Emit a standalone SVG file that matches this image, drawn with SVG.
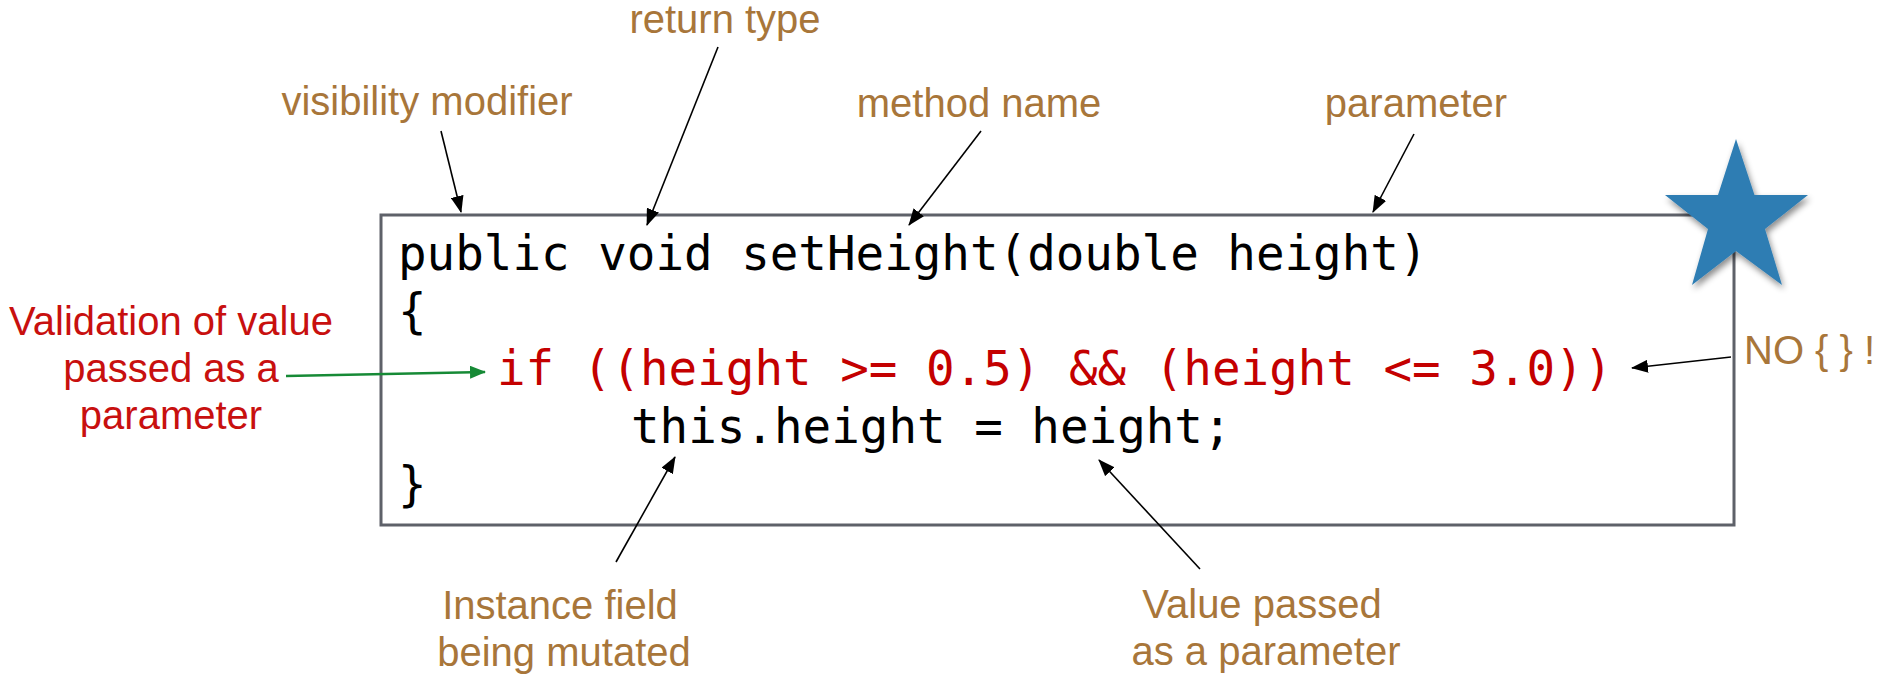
<svg xmlns="http://www.w3.org/2000/svg" width="1882" height="677" viewBox="0 0 1882 677">
<style>
.lbl{font-family:"Liberation Sans",Arial,sans-serif;font-size:40px;fill:#a8763a;}
.red{font-family:"Liberation Sans",Arial,sans-serif;font-size:40px;fill:#c8100f;}
.code{font-family:"DejaVu Sans Mono","Liberation Mono",monospace;font-size:47.5px;fill:#000;}
.codered{fill:#c40000;}
.conn{stroke:#000;stroke-width:1.6;fill:none;marker-end:url(#ah);}
.green{stroke:#168a36;stroke-width:2.5;fill:none;marker-end:url(#ahg);}
</style>
<defs>
<marker id="ah" markerUnits="userSpaceOnUse" markerWidth="17" markerHeight="13" refX="16" refY="6.5" orient="auto">
<path d="M0,0 L17,6.5 L0,13 z" fill="#000"/>
</marker>
<marker id="ahg" markerUnits="userSpaceOnUse" markerWidth="16" markerHeight="13" refX="15" refY="6.5" orient="auto">
<path d="M0,0 L16,6.5 L0,13 z" fill="#168a36"/>
</marker>
<filter id="sh" x="-20%" y="-20%" width="150%" height="150%">
<feDropShadow dx="2" dy="4" stdDeviation="3" flood-color="#000" flood-opacity="0.45"/>
</filter>
</defs>
<rect width="1882" height="677" fill="#fff"/>

<g id="code-box">
<rect x="381" y="215" width="1353" height="310" fill="none" stroke="#5e6169" stroke-width="3"/>
<text class="code" x="398" y="270">public void setHeight(double height)</text>
<text class="code" x="398" y="328">{</text>
<text class="code codered" x="497" y="385">if ((height &gt;= 0.5) &amp;&amp; (height &lt;= 3.0))</text>
<text class="code" x="631" y="443">this.height = height;</text>
<text class="code" x="398" y="501">}</text>
</g>

<g id="star">
<polygon filter="url(#sh)" fill="#2e7db3" points="1736,139 1754.5,195 1808,195 1765,229 1782,285 1736,251 1692,285 1708,229 1665,195 1718,195"/>
</g>

<g id="label-visibility"><text class="lbl" x="427" y="115" text-anchor="middle">visibility modifier</text></g>
<g id="label-return"><text class="lbl" x="725" y="33" text-anchor="middle">return type</text></g>
<g id="label-method"><text class="lbl" x="979" y="117" text-anchor="middle">method name</text></g>
<g id="label-parameter"><text class="lbl" x="1416" y="117" text-anchor="middle">parameter</text></g>
<g id="label-validation">
<text class="red" x="171" y="335" text-anchor="middle">Validation of value</text>
<text class="red" x="171" y="382" text-anchor="middle">passed as a</text>
<text class="red" x="171" y="429" text-anchor="middle">parameter</text>
</g>
<g id="label-nobraces"><text class="lbl" x="1744" y="364">NO { } !</text></g>
<g id="label-instance">
<text class="lbl" x="560" y="619" text-anchor="middle">Instance field</text>
<text class="lbl" x="564" y="666" text-anchor="middle">being mutated</text>
</g>
<g id="label-value">
<text class="lbl" x="1262" y="618" text-anchor="middle">Value passed</text>
<text class="lbl" x="1266" y="665" text-anchor="middle">as a parameter</text>
</g>

<g id="connectors">
<line class="conn" x1="441" y1="131" x2="461" y2="212"/>
<line class="conn" x1="718" y1="47" x2="647" y2="225"/>
<line class="conn" x1="981" y1="131" x2="909" y2="225"/>
<line class="conn" x1="1414" y1="134" x2="1373" y2="212"/>
<line class="conn" x1="1731" y1="357" x2="1632" y2="368"/>
<line class="conn" x1="1200" y1="569" x2="1099" y2="460"/>
<line class="conn" x1="616" y1="562" x2="675" y2="457"/>
<line class="green" x1="286" y1="376" x2="485" y2="372"/>
</g>
</svg>
